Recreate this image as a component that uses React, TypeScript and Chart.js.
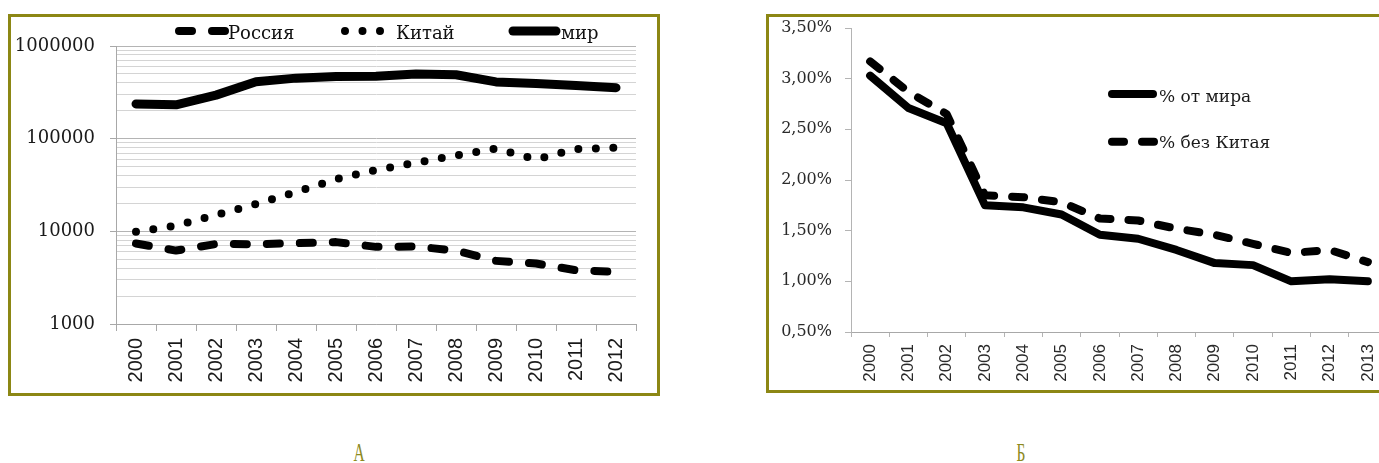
import React, { useEffect, useRef } from 'react';
import { Chart, registerables } from 'chart.js';

Chart.register(...registerables);

// ---- Chart A data (log scale) ----
const YEARS_A = ['2000', '2001', '2002', '2003', '2004', '2005', '2006', '2007', '2008', '2009', '2010', '2011', '2012'];
const RUSSIA = [7400, 6200, 7300, 7250, 7450, 7650, 6800, 6850, 6200, 4800, 4500, 3800, 3650];
const CHINA = [9900, 11500, 15000, 19700, 26500, 36500, 46000, 55000, 66000, 78000, 60000, 77000, 80000];
const WORLD = [237000, 232000, 295000, 412000, 450000, 468000, 472000, 500000, 490000, 410000, 395000, 375000, 355000];
const LABELS_A = ['Россия', 'Китай', 'мир'];
const DECADES_A = [1000, 10000, 100000, 1000000];

// ---- Chart B data (percent) ----
const YEARS_B = ['2000', '2001', '2002', '2003', '2004', '2005', '2006', '2007', '2008', '2009', '2010', '2011', '2012', '2013'];
const SHARE_WORLD = [3.03, 2.71, 2.56, 1.75, 1.73, 1.66, 1.46, 1.42, 1.31, 1.18, 1.16, 1.0, 1.02, 1.0];
const SHARE_EX_CHINA = [3.17, 2.87, 2.65, 1.85, 1.83, 1.78, 1.62, 1.6, 1.52, 1.46, 1.37, 1.28, 1.31, 1.19];
const LABELS_B = ['% от мира', '% без Китая'];

const OLIVE = '#8c8714';

const isDecade = (v: number) => {
  const l = Math.log10(v);
  return Math.abs(l - Math.round(l)) < 1e-9;
};

const customLegend = {
  id: 'customLegend',
  afterDraw(chart: any, _args: any, opts: any) {
    const ctx = chart.ctx;
    (opts.items || []).forEach((it: any, i: number) => {
      const ds: any = chart.data.datasets[i];
      ctx.save();
      ctx.strokeStyle = ds.borderColor;
      ctx.lineWidth = ds.borderWidth;
      ctx.lineCap = ds.borderCapStyle || 'butt';
      ctx.setLineDash(ds.borderDash || []);
      ctx.beginPath();
      ctx.moveTo(it.x0, it.y);
      ctx.lineTo(it.x1, it.y);
      ctx.stroke();
      ctx.setLineDash([]);
      ctx.fillStyle = opts.color;
      ctx.font = opts.font;
      ctx.textAlign = 'left';
      ctx.textBaseline = 'alphabetic';
      ctx.fillText(ds.label, it.tx, it.ty);
      ctx.restore();
    });
  },
};

export default function App() {
  const leftRef = useRef<HTMLCanvasElement | null>(null);
  const rightRef = useRef<HTMLCanvasElement | null>(null);

  useEffect(() => {
    const gridTicks: number[] = [];
    DECADES_A.forEach((d, i) => {
      if (i < DECADES_A.length - 1) {
        for (let k = 1; k <= 9; k++) gridTicks.push(d * k);
      } else gridTicks.push(d);
    });

    const left = new Chart(leftRef.current as HTMLCanvasElement, {
      type: 'line',
      data: {
        labels: YEARS_A,
        datasets: [
          {
            label: LABELS_A[0],
            data: RUSSIA,
            borderColor: '#000',
            borderWidth: 8,
            borderDash: [13, 20],
            borderCapStyle: 'round',
            borderJoinStyle: 'round',
            pointRadius: 0,
            fill: false,
            tension: 0,
          },
          {
            label: LABELS_A[1],
            data: CHINA,
            borderColor: '#000',
            borderWidth: 8,
            borderDash: [0, 17.5],
            borderCapStyle: 'round',
            borderJoinStyle: 'round',
            pointRadius: 0,
            fill: false,
            tension: 0,
          },
          {
            label: LABELS_A[2],
            data: WORLD,
            borderColor: '#000',
            borderWidth: 9,
            borderCapStyle: 'round',
            borderJoinStyle: 'round',
            pointRadius: 0,
            fill: false,
            tension: 0,
          },
        ] as any,
      },
      options: {
        responsive: false,
        animation: false,
        events: [],
        layout: { padding: { top: 29, right: 21, left: 0, bottom: 0 } },
        plugins: {
          legend: { display: false },
          tooltip: { enabled: false },
          customLegend: {
            color: '#111',
            font: '18px "DejaVu Serif"',
            items: [
              { x0: 168, x1: 218, y: 14, tx: 217, ty: 21.5 },
              { x0: 334, x1: 372, y: 14, tx: 385, ty: 21.5 },
              { x0: 502, x1: 545, y: 14, tx: 550, ty: 21.5 },
            ],
          },
        } as any,
        scales: {
          x: {
            type: 'category',
            offset: true,
            grid: { offset: true, drawOnChartArea: false, drawTicks: true, tickLength: 7, tickColor: '#a8a8a8' },
            border: { color: '#a8a8a8' },
            ticks: {
              minRotation: 90,
              maxRotation: 90,
              padding: 7,
              autoSkip: false,
              color: '#1a1a1a',
              font: { family: '"Liberation Sans", Arial, sans-serif', size: 20 },
            },
            afterFit: (s: any) => {
              s.height = 69;
            },
          },
          y: {
            type: 'logarithmic',
            min: 1000,
            max: 1000000,
            afterBuildTicks: (s: any) => {
              s.ticks = gridTicks.map((v) => ({ value: v }));
            },
            grid: {
              color: (c: any) => (c.tick && isDecade(c.tick.value) ? '#b4b4b4' : '#d4d4d4'),
              tickColor: (c: any) => (c.tick && isDecade(c.tick.value) ? '#a8a8a8' : 'rgba(0,0,0,0)'),
              tickLength: 6,
            },
            border: { color: '#a8a8a8' },
            ticks: {
              autoSkip: false,
              padding: 15,
              color: '#1a1a1a',
              font: { family: '"DejaVu Serif", serif', size: 18 },
              callback: (v: any) => (isDecade(Number(v)) ? String(Math.round(Number(v))) : ''),
            },
            afterFit: (s: any) => {
              s.width = 105;
              s.paddingTop = 4;
              s.paddingBottom = 4;
            },
          },
        },
      } as any,
      plugins: [customLegend as any],
    });

    const right = new Chart(rightRef.current as HTMLCanvasElement, {
      type: 'line',
      data: {
        labels: YEARS_B,
        datasets: [
          {
            label: LABELS_B[0],
            data: SHARE_WORLD,
            borderColor: '#000',
            borderWidth: 8,
            borderCapStyle: 'round',
            borderJoinStyle: 'round',
            pointRadius: 0,
            fill: false,
            tension: 0,
          },
          {
            label: LABELS_B[1],
            data: SHARE_EX_CHINA,
            borderColor: '#000',
            borderWidth: 8,
            borderDash: [12, 18],
            borderCapStyle: 'round',
            borderJoinStyle: 'round',
            pointRadius: 0,
            fill: false,
            tension: 0,
          },
        ] as any,
      },
      options: {
        responsive: false,
        animation: false,
        events: [],
        layout: { padding: { top: 11, right: 22, left: 0, bottom: 0 } },
        plugins: {
          legend: { display: false },
          tooltip: { enabled: false },
          customLegend: {
            color: '#1a1a1a',
            font: '17px "DejaVu Serif"',
            items: [
              { x0: 343, x1: 384, y: 77, tx: 390, ty: 84.5 },
              { x0: 343, x1: 385, y: 124.7, tx: 390, ty: 131.3 },
            ],
          },
        } as any,
        scales: {
          x: {
            type: 'category',
            offset: true,
            grid: { offset: true, drawOnChartArea: false, drawTicks: true, tickLength: 5, tickColor: '#b4b4b4' },
            border: { color: '#a8a8a8' },
            ticks: {
              minRotation: 90,
              maxRotation: 90,
              padding: 7,
              autoSkip: false,
              color: '#2a2a2a',
              font: { family: '"Liberation Sans", Arial, sans-serif', size: 17 },
            },
            afterFit: (s: any) => {
              s.height = 58;
            },
          },
          y: {
            min: 0.5,
            max: 3.5,
            grid: { drawOnChartArea: false, drawTicks: true, tickLength: 6, tickColor: '#b4b4b4' },
            border: { color: '#b4b4b4' },
            ticks: {
              stepSize: 0.5,
              padding: 13,
              color: '#2a2a2a',
              font: { family: '"DejaVu Serif", serif', size: 16 },
              callback: (v: any) => Number(v).toFixed(2).replace('.', ',') + '%',
            },
            afterFit: (s: any) => {
              s.width = 82;
              s.paddingTop = 4;
              s.paddingBottom = 4;
            },
          },
        },
      } as any,
      plugins: [customLegend as any],
    });

    return () => {
      left.destroy();
      right.destroy();
    };
  }, []);

  const letterStyle: React.CSSProperties = {
    position: 'absolute',
    top: 440,
    width: 40,
    height: 25,
    textAlign: 'center',
    fontFamily: '"Liberation Serif", serif',
    fontSize: 25,
    lineHeight: '25px',
    color: '#8d8a1e',
    transform: 'scaleX(0.62)',
  };

  return (
    <div
      style={{
        position: 'fixed',
        left: 0,
        top: 0,
        width: 1379,
        height: 463,
        overflow: 'hidden',
        background: '#fff',
      }}
    >
      <div
        style={{
          position: 'absolute',
          left: 8,
          top: 14,
          width: 652,
          height: 382,
          border: `3px solid ${OLIVE}`,
          boxSizing: 'border-box',
        }}
      >
        <canvas ref={leftRef} width={646} height={376} style={{ display: 'block', width: 646, height: 376 }} />
      </div>
      <div
        style={{
          position: 'absolute',
          left: 766,
          top: 14,
          width: 700,
          height: 379,
          borderTop: `3px solid ${OLIVE}`,
          borderLeft: `3px solid ${OLIVE}`,
          borderBottom: `3px solid ${OLIVE}`,
          boxSizing: 'border-box',
        }}
      >
        <canvas ref={rightRef} width={640} height={373} style={{ display: 'block', width: 640, height: 373 }} />
      </div>
      <div style={{ ...letterStyle, left: 338.5 }}>А</div>
      <div style={{ ...letterStyle, left: 1001 }}>Б</div>
    </div>
  );
}
